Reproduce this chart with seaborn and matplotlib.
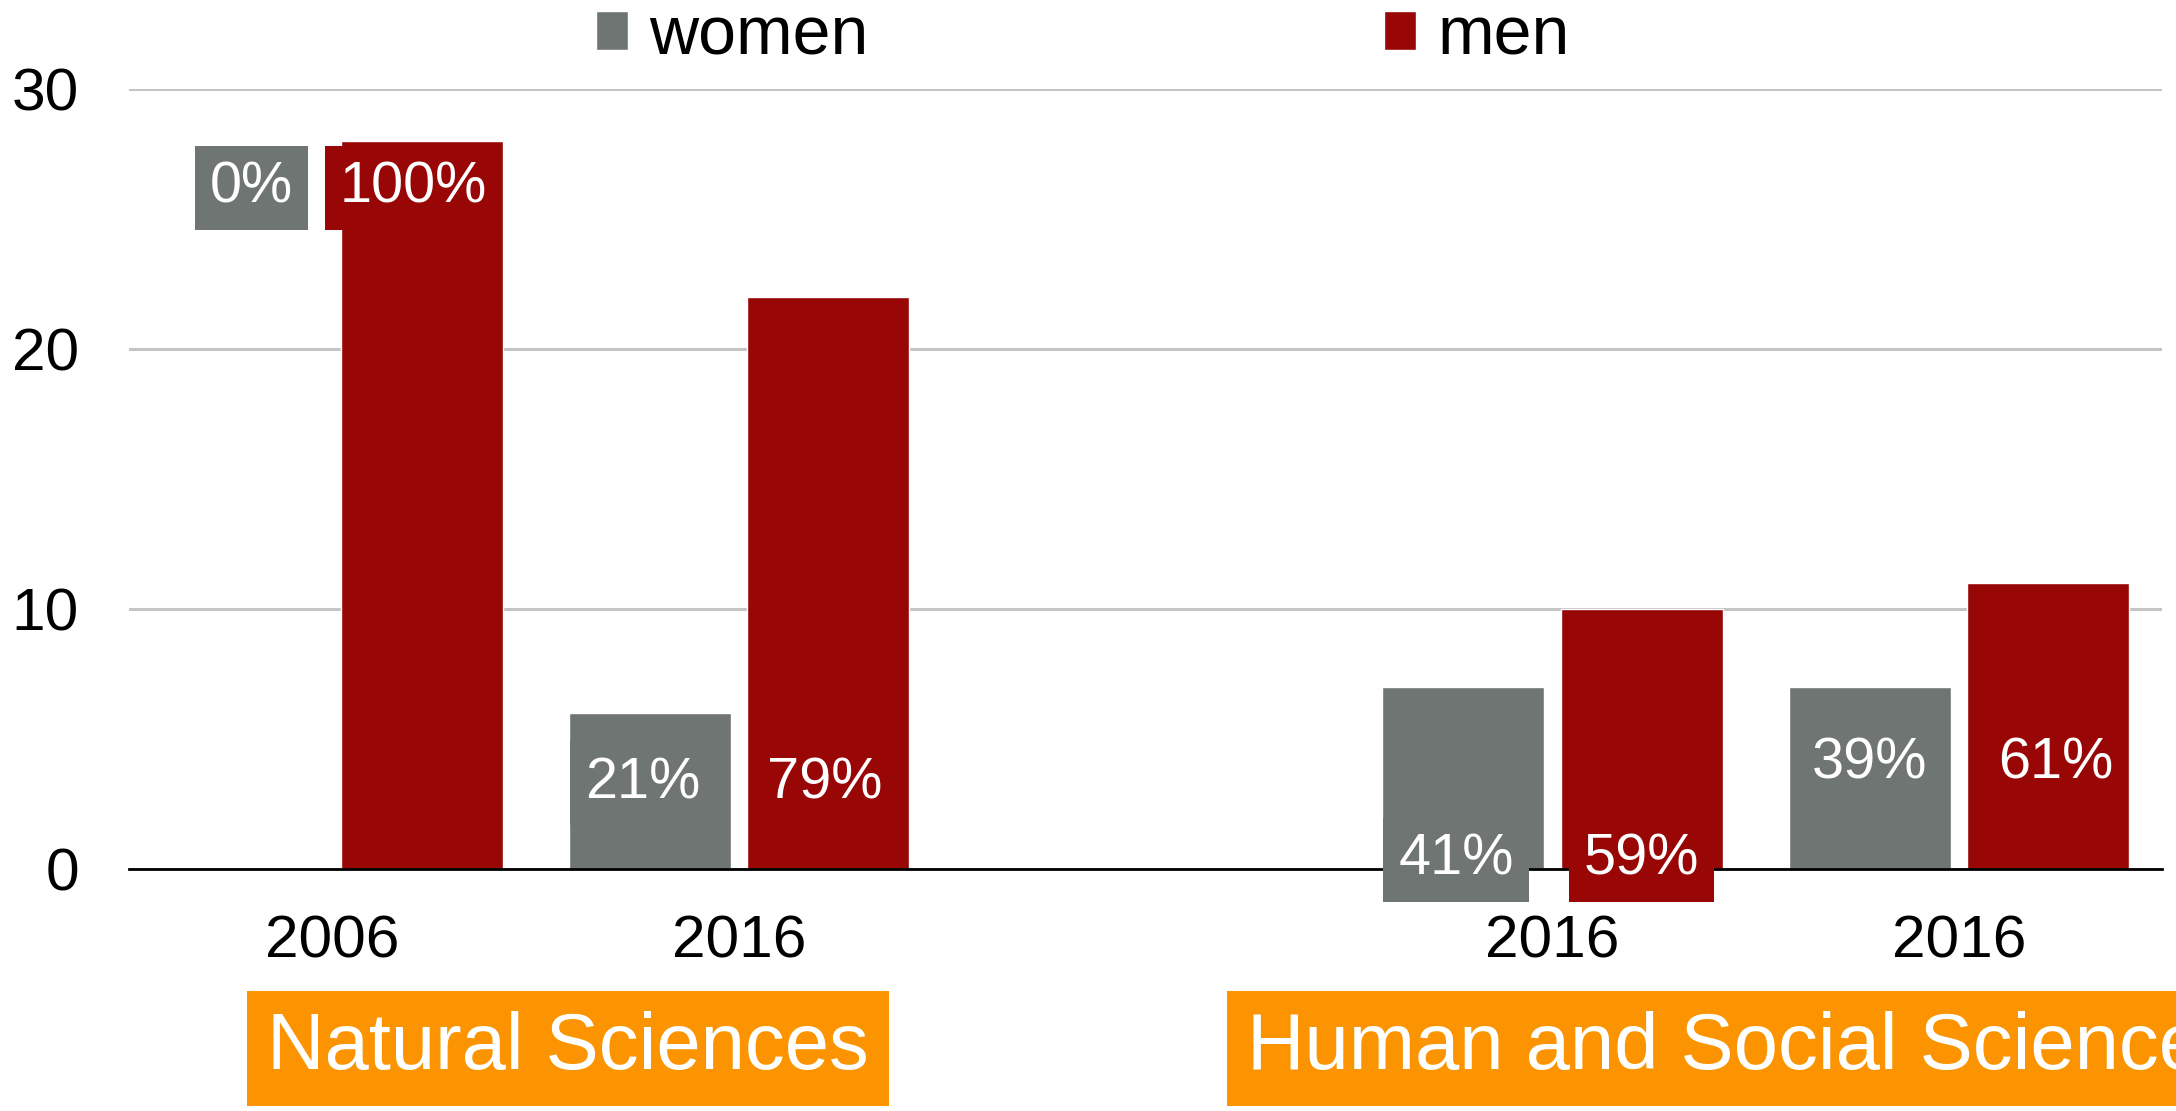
import numpy as np
import pandas as pd
import seaborn as sns
from matplotlib import pyplot as plt
from matplotlib import transforms

sns.set_theme(style="white")
plt.rcParams['font.family'] = ['Liberation Sans', 'DejaVu Sans']
plt.rcParams['text.color'] = 'black'

# data (one empty slot separates the two fields)
slots = ["NS 2006", "NS 2016", "gap", "HSS 2016 a", "HSS 2016 b"]
years = ["2006", "2016", "", "2016", "2016"]
women = [0, 6, None, 7, 7]
men = [28, 22, None, 10, 11]
women_pct = ["0%", "21%", "", "41%", "39%"]
men_pct = ["100%", "79%", "", "59%", "61%"]
# where the percentage boxes sit (hand placed in the original)
label_y = [26.2, 3.3, None, 0.35, 4.05]
women_dx = [0.02, -0.018, 0, -0.017, 0]
men_dx = [-0.02, -0.01, 0, 0, 0.018]
fields = ["Natural Sciences", "Human and Social Sciences"]
field_x = [-0.16, 2.25]

GREY = "#6f7572"
RED = "#990606"
ORANGE = "#fb9400"

rows = []
for s, w, m in zip(slots, women, men):
    if w is None:
        continue
    rows.append({"slot": s, "sex": "women", "value": w})
    rows.append({"slot": s, "sex": "men", "value": m})
df = pd.DataFrame(rows)

fig = plt.figure(figsize=(21.76, 11.11), dpi=100)
ax = fig.add_axes([0.0593, 0.218, 0.9344, 0.702])

sns.barplot(data=df, x="slot", y="value", hue="sex", order=slots,
            hue_order=["women", "men"], palette=[GREY, RED],
            width=0.879, gap=0.093, saturation=1, ax=ax, legend=True)

ax.set_xlim(-0.5, 4.5)
ax.set_ylim(0, 30)
ax.set_yticks([0, 10, 20, 30])
ax.yaxis.grid(True, color="#c4c4c4", linewidth=2.2)
ax.set_axisbelow(True)
for side in ["top", "right", "left"]:
    ax.spines[side].set_visible(False)
ax.spines["bottom"].set_color("black")
ax.spines["bottom"].set_linewidth(2)
ax.set_xlabel("")
ax.set_ylabel("")
ax.set_xticks(range(len(slots)))
ax.set_xticklabels(years)
ax.tick_params(axis="y", length=0, pad=36, labelsize=43.5, labelcolor="black")
ax.tick_params(axis="x", length=0, pad=33, labelsize=43.5, labelcolor="black")

# percentage labels
for cont, pcts, dxs, col in zip(ax.containers, [women_pct, men_pct],
                                [women_dx, men_dx], [GREY, RED]):
    for bar in cont:
        cx = bar.get_x() + bar.get_width() / 2
        i = int(round(cx))
        if label_y[i] is None:
            continue
        ax.text(cx + dxs[i], label_y[i], pcts[i], ha="center", va="center",
                color="white", fontsize=41.5,
                bbox=dict(boxstyle="square,pad=0.26", fc=col, ec="none"))

# field labels under the axis
trans = transforms.blended_transform_factory(ax.transData, fig.transFigure)
for name, x in zip(fields, field_x):
    ax.text(x, 0.056, name, transform=trans, ha="left", va="center",
            color="white", fontsize=57.3,
            bbox=dict(boxstyle="square,pad=0.25", fc=ORANGE, ec="none"))

handles, labels = ax.get_legend_handles_labels()
ax.get_legend().remove()
fig.legend(handles, labels, loc="center left", bbox_to_anchor=(0.274, 0.967),
           ncol=2, frameon=False, fontsize=49, labelcolor="black",
           handlelength=0.47, handleheight=0.52, handletextpad=0.31,
           columnspacing=7.58, borderpad=0, borderaxespad=0)

fig.savefig("out.png", dpi=100)
